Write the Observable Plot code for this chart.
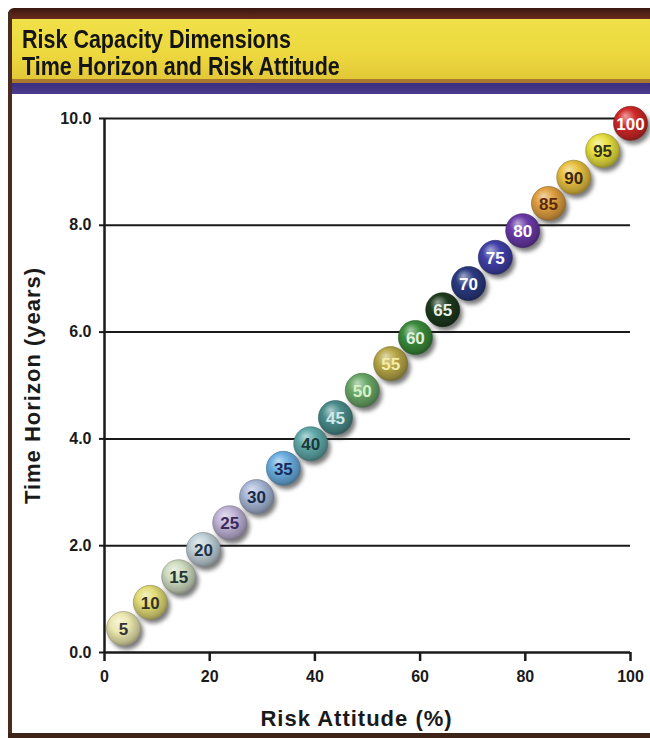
<!DOCTYPE html>
<html>
<head>
<meta charset="utf-8">
<script src="https://cdn.jsdelivr.net/npm/d3@7"></script>
<script src="https://cdn.jsdelivr.net/npm/@observablehq/plot@0.6"></script>
<style>
  html, body { margin: 0; padding: 0; background: #fff; }
  #frame { position: relative; width: 650px; height: 738px; overflow: hidden; background: #fff; font-family: "Liberation Sans", Arial, sans-serif; }
  #leftborder { position: absolute; left: 8px; top: 12px; width: 4px; height: 726px; background: #4a2c1e; }
  #bottomborder { position: absolute; left: 8px; top: 733px; width: 642px; height: 5px; background: #3e2418; }
  #topband { position: absolute; left: 8px; top: 8px; width: 642px; height: 11px; background: linear-gradient(#3a1810, #6a2a1c); border-top-left-radius: 6px; }
  #yellow { position: absolute; left: 12px; top: 19px; width: 638px; height: 60px; background: linear-gradient(#f0e048, #ecd83e 60%, #e2c838); }
  #orange { position: absolute; left: 12px; top: 79px; width: 638px; height: 4px; background: #a8782e; }
  #purple { position: absolute; left: 12px; top: 83px; width: 638px; height: 11px; background: linear-gradient(#3a2c80, #4c3c8c); }
  #title { position: absolute; left: 22px; top: 26px; font-weight: bold; font-size: 25px; line-height: 27px; color: #141414; transform: scaleX(0.86); transform-origin: 0 0; white-space: nowrap; }
  #chart { position: absolute; left: 12px; top: 95px; }
  g[aria-description="shadow"] { filter: blur(2px); }
  g[aria-description="axis-title"] text { letter-spacing: 1px; }
</style>
</head>
<body>
<div id="frame">
  <div id="topband"></div>
  <div id="yellow"></div>
  <div id="orange"></div>
  <div id="purple"></div>
  <div id="leftborder"></div>
  <div id="bottomborder"></div>
  <div id="title">Risk Capacity Dimensions<br>Time Horizon and Risk Attitude</div>
  <div id="chart"></div>
</div>
<script>
// Ball labels (risk score) and their positions
const labels = [5, 10, 15, 20, 25, 30, 35, 40, 45, 50, 55, 60, 65, 70, 75, 80, 85, 90, 95, 100];
const riskAttitude = [3.6, 8.7, 14.1, 18.8, 23.8, 28.9, 34.0, 39.2, 43.9, 49.0, 54.4, 59.1, 64.3, 69.2, 74.3, 79.5, 84.4, 89.2, 94.7, 100];
const timeHorizon = [0.45, 0.94, 1.42, 1.93, 2.43, 2.92, 3.45, 3.91, 4.40, 4.91, 5.41, 5.90, 6.42, 6.91, 7.40, 7.90, 8.41, 8.90, 9.40, 9.91];
const ballColors = ["#ece8b0", "#e2dc78", "#cfdcc0", "#c0d0d8", "#c0b4d8", "#a8b8d8", "#6aaee0", "#60a8a8", "#4a8c8c", "#6aa868",
                    "#b8a848", "#3a8a3a", "#1e3a1e", "#2a3a80", "#4040a8", "#6a3aa8", "#e0a040", "#e8c040", "#e8e040", "#d02828"];
const labelColors = ["#333333", "#333322", "#223333", "#223344", "#3a2a5a", "#1a2a4a", "#1a2a5a", "#1a3a3a", "#d0e8e8", "#d8f0c8",
                     "#f4eca8", "#e0f0e0", "#e8f0e8", "#ffffff", "#ffffff", "#ffffff", "#5a2a0a", "#3a2a0a", "#333311", "#ffffff"];
const xTicks = [0, 20, 40, 60, 80, 100];
const yTicks = [0, 2, 4, 6, 8, 10];
const gridValues = [2, 4, 6, 8, 10];
const xTitle = "Risk Attitude (%)";
const yTitle = "Time Horizon (years)";

const balls = labels.map((v, i) => ({label: v, x: riskAttitude[i], y: timeHorizon[i], i}));

const font = "Liberation Sans, Arial, sans-serif";
const chart = Plot.plot({
  width: 638,
  height: 638,
  marginLeft: 92,
  marginRight: 20,
  marginTop: 23,
  marginBottom: 81,
  style: {fontFamily: font, background: "transparent", overflow: "visible"},
  x: {domain: [0, 100]},
  y: {domain: [0, 10]},
  marks: [
    Plot.ruleY(gridValues, {x1: 0, x2: 100, stroke: "#1a1a1a", strokeWidth: 2}),
    Plot.ruleX([0], {y1: 0, y2: 10, stroke: "#1a1a1a", strokeWidth: 2.5}),
    Plot.ruleY([0], {x1: 0, x2: 100, stroke: "#1a1a1a", strokeWidth: 2.5}),
    Plot.axisX({ticks: xTicks, tickSize: 9, tickPadding: 9, strokeWidth: 2.5, stroke: "#1a1a1a",
      tickFormat: d => String(d), fontSize: 16, fontWeight: "bold", fill: "#1a1a1a", label: null}),
    Plot.axisY({ticks: yTicks, tickSize: 5, tickPadding: 8, strokeWidth: 2, stroke: "#1a1a1a",
      tickFormat: d3.format(".1f"), fontSize: 16, fontWeight: "bold", fill: "#1a1a1a", label: null}),
    Plot.text([xTitle], {frameAnchor: "bottom", textAnchor: "middle", lineAnchor: "middle", dx: -11, dy: 66, fontSize: 22, fontWeight: "bold", fill: "#1a1a1a", ariaDescription: "axis-title"}),
    Plot.text([yTitle], {frameAnchor: "left", textAnchor: "middle", lineAnchor: "middle", rotate: -90, dx: -72, dy: 0, fontSize: 22, fontWeight: "bold", fill: "#1a1a1a", ariaDescription: "axis-title"}),
    Plot.dot(balls, {x: "x", y: "y", r: 17, dx: 3, dy: 4, fill: "#222222", fillOpacity: 0.6, ariaDescription: "shadow"}),
    Plot.dot(balls, {x: "x", y: "y", r: 17, fill: d => `url(#ball${d.i})`, stroke: d => d3.color(ballColors[d.i]).darker(1.2).formatHex(), strokeWidth: 0.6}),
    Plot.text(balls, {x: "x", y: "y", text: d => String(d.label), fill: d => labelColors[d.i], fontSize: 17, fontWeight: "bold", dy: 1})
  ]
});

// gradient definitions for the glossy balls
const defs = d3.create("svg:defs");
ballColors.forEach((c, i) => {
  const base = d3.color(c);
  const g = defs.append("radialGradient").attr("id", `ball${i}`).attr("cx", "45%").attr("cy", "42%").attr("r", "60%").attr("fx", "35%").attr("fy", "28%");
  g.append("stop").attr("offset", "0%").attr("stop-color", d3.interpolateRgb(c, "#ffffff")(0.55));
  g.append("stop").attr("offset", "45%").attr("stop-color", c);
  g.append("stop").attr("offset", "85%").attr("stop-color", base.darker(0.7).formatHex());
  g.append("stop").attr("offset", "100%").attr("stop-color", base.darker(1.3).formatHex());
});
chart.insertBefore(defs.node(), chart.firstChild);
document.getElementById("chart").appendChild(chart);
</script>
</body>
</html>
